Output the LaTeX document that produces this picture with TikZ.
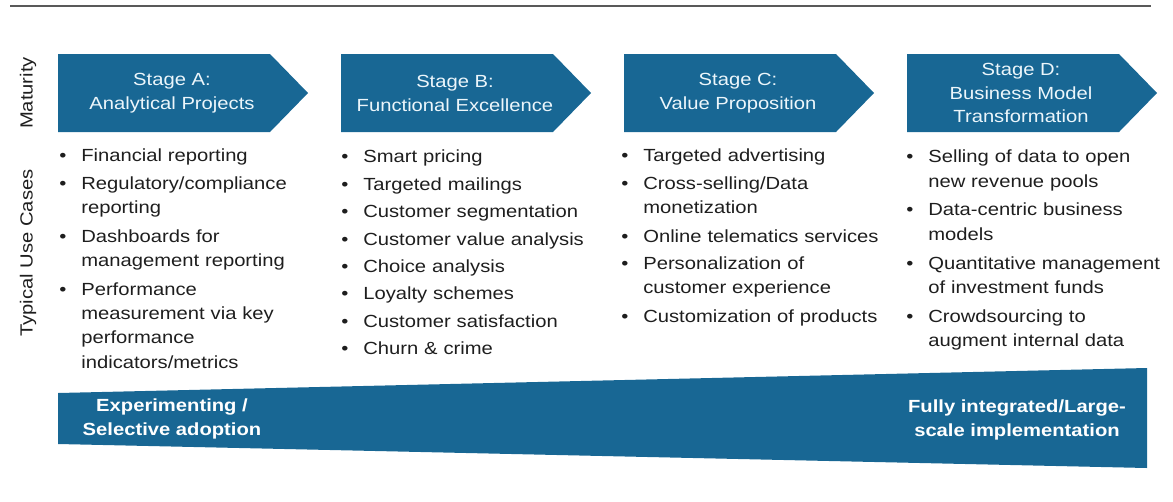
\documentclass[tikz,border=0pt]{standalone}
\usepackage{fontspec}
\setmainfont{Liberation Sans}[FakeStretch=1.15]

\definecolor{stageblue}{RGB}{24,103,148}
\definecolor{stagetextc}{RGB}{236,246,251}
\definecolor{casetext}{RGB}{30,30,30}

\newcommand{\usecase}[1]{\noindent\hbox to 12.5pt{\strut\textbullet\hfil}{\renewcommand{\arraystretch}{0.97}\begin{tabular}[t]{@{}l@{}}#1\end{tabular}}\par}
\newcommand{\casefont}{\fontsize{10}{14.2}\selectfont\setlength{\parskip}{1.4pt}}

\tikzset{
  stage/.style={fill=stageblue},
  stagelabel/.style={text=stagetextc, align=center, font=\fontsize{10}{13.6}\selectfont},
  usecases/.style={anchor=north west, inner sep=0pt, text width=150pt, align=left, text=casetext, font=\casefont},
  sidelabel/.style={rotate=90, text=casetext, font=\fontsize{10}{12}\selectfont},
  scalelabel/.style={text=white, align=center, font=\bfseries\fontsize{10}{13.6}\selectfont}
}

\begin{document}
\begin{tikzpicture}[x=0.02cm, y=-0.02cm]
  \useasboundingbox (0,0) rectangle (1173,501);
  % rule on top
  \coordinate (ruleL) at (10,6);
  \coordinate (ruleR) at (1151,6);
  \draw[line width=1.2pt, gray!70!black] (ruleL) -- (ruleR);

  % side labels
  \node[sidelabel] (maturity) at (28,93) {Maturity};
  \node[sidelabel] (typical) at (28,253) {Typical Use Cases};

  % stage arrows
  \foreach \x/\n/\txt in {58/A/{Stage A:\\Analytical Projects},
                          341/B/{Stage B:\\Functional Excellence},
                          624/C/{Stage C:\\Value Proposition},
                          907/D/{Stage D:\\Business Model\\Transformation}}{
    \fill[stage] (\x,54) -- ++(212,0) -- ++(38,39) -- ++(-38,39) -- ++(-212,0) -- cycle;
    \node[stagelabel] (stage\n) at (\x+114,93) {\txt};
  }

  % use cases
  \node[usecases] (casesA) at (59,144) {%
    \usecase{Financial reporting}
    \usecase{Regulatory/compliance\\reporting}
    \usecase{Dashboards for\\management reporting}
    \usecase{Performance\\measurement via key\\performance\\indicators/metrics}};
  \node[usecases] (casesB) at (341,145) {%
    \usecase{Smart pricing}
    \usecase{Targeted mailings}
    \usecase{Customer segmentation}
    \usecase{Customer value analysis}
    \usecase{Choice analysis}
    \usecase{Loyalty schemes}
    \usecase{Customer satisfaction}
    \usecase{Churn \& crime}};
  \node[usecases] (casesC) at (621,144) {%
    \usecase{Targeted advertising}
    \usecase{Cross-selling/Data\\monetization}
    \usecase{Online telematics services}
    \usecase{Personalization of\\customer experience}
    \usecase{Customization of products}};
  \node[usecases] (casesD) at (906,145) {%
    \usecase{Selling of data to open\\new revenue pools}
    \usecase{Data-centric business\\models}
    \usecase{Quantitative management\\of investment funds}
    \usecase{Crowdsourcing to\\augment internal data}};

  % adoption wedge
  \fill[stage] (58,393) -- (1147,368) -- (1147,468) -- (58,444) -- cycle;
  \node[scalelabel] (lowend) at (172,419) {Experimenting /\\Selective adoption};
  \node[scalelabel] (highend) at (1017,420) {Fully integrated/Large-\\scale implementation};
\end{tikzpicture}
\end{document}
